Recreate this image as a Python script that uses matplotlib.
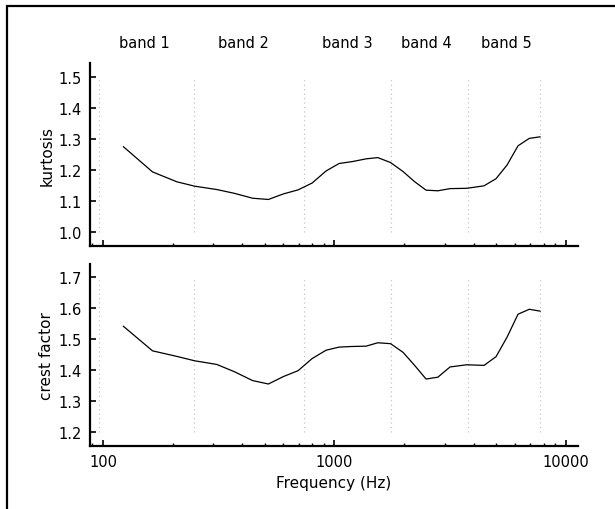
import matplotlib
matplotlib.use("Agg")
import matplotlib.pyplot as plt
from matplotlib.ticker import FixedLocator, LogLocator, NullFormatter, FixedFormatter
from matplotlib.patches import Rectangle
import matplotlib.transforms as mtransforms

# ---- data ----
freq = [122.6, 163.6, 208.5, 248.4, 310.3, 368.6, 443.0, 518.3, 601.7, 696.3,
        800.6, 919.8, 1047, 1191, 1369, 1538, 1747, 1978, 2213, 2486,
        2796, 3156, 3726, 4424, 4985, 5563, 6204, 6941, 7723]
kurtosis = [1.276, 1.195, 1.163, 1.149, 1.138, 1.126, 1.110, 1.106, 1.124, 1.137,
            1.159, 1.198, 1.222, 1.228, 1.237, 1.241, 1.225, 1.196, 1.164, 1.136,
            1.134, 1.141, 1.142, 1.150, 1.173, 1.217, 1.279, 1.303, 1.308]
crest = [1.542, 1.463, 1.445, 1.431, 1.419, 1.396, 1.367, 1.356, 1.380, 1.399,
         1.438, 1.465, 1.475, 1.477, 1.478, 1.489, 1.486, 1.458, 1.417, 1.372,
         1.378, 1.411, 1.418, 1.416, 1.444, 1.507, 1.581, 1.597, 1.591]
band_edges = [96.6, 248.4, 741, 1751, 3764, 7744]
band_labels = ["band 1", "band 2", "band 3", "band 4", "band 5"]
band_label_x = [150.6, 403, 1133, 2486, 5508]
kurt_ticks = [1.0, 1.1, 1.2, 1.3, 1.4, 1.5]
crest_ticks = [1.2, 1.3, 1.4, 1.5, 1.6, 1.7]
x_ticks = [100, 1000, 10000]
x_ticklabels = ["100", "1000", "10000"]

plt.rcParams['font.family'] = ['DejaVu Sans']
fig = plt.figure(figsize=(6.15, 5.10), dpi=100)

W, H = 615.0, 510.0
def ax_rect(l, r, t, b):
    return [l / W, 1 - b / H, (r - l) / W, (b - t) / H]

ax1 = fig.add_axes(ax_rect(90, 578, 64, 247))
ax2 = fig.add_axes(ax_rect(90, 578, 265, 446.7))

xlim = (87.9, 11266)

def style(ax, yticks, ylim, ylabel, show_x):
    ax.set_xscale('log')
    ax.set_xlim(*xlim)
    ax.set_ylim(*ylim)
    for s in ['top', 'right']:
        ax.spines[s].set_visible(False)
    for s in ['left', 'bottom']:
        ax.spines[s].set_linewidth(1.6)
    ax.xaxis.set_major_locator(FixedLocator(x_ticks))
    ax.xaxis.set_minor_locator(LogLocator(base=10, subs=range(2, 10)))
    ax.xaxis.set_minor_formatter(NullFormatter())
    if show_x:
        ax.xaxis.set_major_formatter(FixedFormatter(x_ticklabels))
    else:
        ax.xaxis.set_major_formatter(NullFormatter())
    ax.set_yticks(yticks)
    ax.set_yticklabels([f"{t:.1f}" for t in yticks])
    ax.tick_params(axis='both', which='major', direction='in', length=4, width=1.2,
                   labelsize=10.5, pad=6)
    ax.tick_params(axis='x', which='minor', direction='in', length=2.2, width=1.0)
    ax.tick_params(axis='y', which='minor', left=False)
    ax.set_ylabel(ylabel, fontsize=11, labelpad=3)
    ax.set_facecolor('none')
    ax.vlines(band_edges, yticks[0], yticks[-1], colors='#bbbbbb',
              linestyles=(0, (1, 3)), linewidth=0.8, zorder=1)

style(ax1, kurt_ticks, (0.956, 1.546), "kurtosis", False)
style(ax2, crest_ticks, (1.157, 1.743), "crest factor", True)

ax1.plot(freq, kurtosis, color='black', linewidth=0.9, zorder=3)
ax2.plot(freq, crest, color='black', linewidth=0.9, zorder=3)

ax2.set_xlabel("Frequency (Hz)", fontsize=11, labelpad=4)

# band labels above top panel
trans = mtransforms.blended_transform_factory(ax1.transData, fig.transFigure)
for lx, lab in zip(band_label_x, band_labels):
    fig.text(lx, 1 - 43 / H, lab, transform=trans, ha='center', va='center',
             fontsize=10.5)

# outer frame (top and left lines visible)
fig.patches.append(Rectangle((7 / W, -0.1), 1.2, 1 - 7 / H + 0.1,
                             transform=fig.transFigure, fill=False,
                             edgecolor='black', linewidth=1.6))

fig.savefig("out.png", dpi=100)
